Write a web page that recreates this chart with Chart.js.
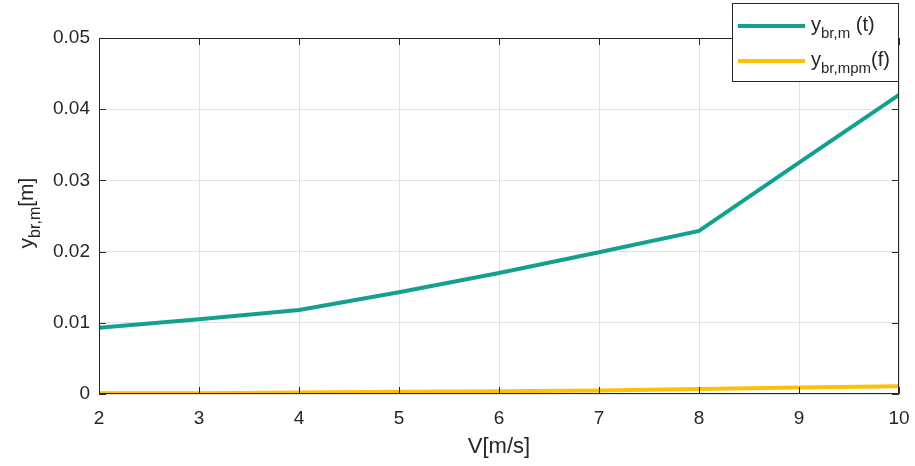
<!DOCTYPE html>
<html>
<head>
<meta charset="utf-8">
<script src="https://cdn.jsdelivr.net/npm/chart.js@4"></script>
<style>
  body { margin: 0; background: #fff; }
  #wrap { width: 915px; height: 466px; position: relative; }
</style>
</head>
<body>
<div id="wrap"><canvas id="chart"></canvas></div>
<script>
// wind speed V [m/s]
const speeds = [2, 3, 4, 5, 6, 7, 8, 9, 10];
// y_br,m (t)
const ybrM = [0.0093, 0.0105, 0.0118, 0.0143, 0.0170, 0.0199, 0.0229, 0.0325, 0.0420];
// y_br,mpm (f)
const ybrMpm = [0.0001, 0.0001, 0.0002, 0.0003, 0.0004, 0.0005, 0.0007, 0.0009, 0.0011];
const yTicks = [0, 0.01, 0.02, 0.03, 0.04, 0.05];

const FONT = '"Liberation Sans", Arial, Helvetica, sans-serif';
const TEXT = '#262626';
const TEAL = '#14a090';
const GOLD = '#ffc107';

// draws "base" followed by a lowered subscript and a trailing part, returns end x
function subText(ctx, x, y, base, sub, tail, size) {
  ctx.font = size + 'px ' + FONT;
  ctx.fillText(base, x, y);
  x += ctx.measureText(base).width;
  const subSize = Math.round(size * 0.75);
  ctx.font = subSize + 'px ' + FONT;
  ctx.fillText(sub, x, y + size * 0.35);
  x += ctx.measureText(sub).width;
  ctx.font = size + 'px ' + FONT;
  ctx.fillText(tail, x, y);
  return x + ctx.measureText(tail).width;
}

// box, inward ticks, axis titles and legend
const decorations = {
  id: 'decorations',
  afterDraw(chart) {
    const ctx = chart.ctx;
    const a = chart.chartArea;
    const xs = chart.scales.x, ys = chart.scales.y;
    ctx.save();
    ctx.strokeStyle = '#262626';
    ctx.lineWidth = 1;
    ctx.beginPath();
    ctx.rect(a.left + 0.5, a.top + 0.5, a.right - a.left - 1, a.bottom - a.top - 1);
    speeds.forEach(v => {
      const px = Math.round(xs.getPixelForValue(v)) + 0.5;
      ctx.moveTo(px, a.bottom); ctx.lineTo(px, a.bottom - 7);
      ctx.moveTo(px, a.top); ctx.lineTo(px, a.top + 7);
    });
    yTicks.forEach(v => {
      const py = Math.round(ys.getPixelForValue(v)) + 0.5;
      ctx.moveTo(a.left, py); ctx.lineTo(a.left + 7, py);
      ctx.moveTo(a.right, py); ctx.lineTo(a.right - 7, py);
    });
    ctx.stroke();

    ctx.fillStyle = TEXT;
    ctx.textBaseline = 'alphabetic';
    ctx.textAlign = 'center';
    ctx.font = '22px ' + FONT;
    ctx.fillText('V[m/s]', (a.left + a.right) / 2, 453);

    // rotated y title
    ctx.save();
    ctx.translate(33, 213);
    ctx.rotate(-Math.PI / 2);
    ctx.textAlign = 'left';
    ctx.font = '21px ' + FONT;
    const w = ctx.measureText('y').width + ctx.measureText('[m]').width;
    ctx.font = '16px ' + FONT;
    const total = w + ctx.measureText('br,m').width;
    subText(ctx, -total / 2, 0, 'y', 'br,m', '[m]', 21);
    ctx.restore();

    // legend, right edge flush with the plot box
    const lw = 166, lh = 78;
    const lx = a.right - lw - 1, ly = 3;
    ctx.fillStyle = '#fff';
    ctx.fillRect(lx, ly, lw, lh);
    ctx.strokeStyle = '#262626';
    ctx.strokeRect(lx + 0.5, ly + 0.5, lw, lh);
    const items = [
      { color: TEAL, sub: 'br,m', tail: ' (t)', y: 26 },
      { color: GOLD, sub: 'br,mpm', tail: '(f)', y: 61 }
    ];
    ctx.lineWidth = 4;
    ctx.textAlign = 'left';
    items.forEach(it => {
      ctx.strokeStyle = it.color;
      ctx.beginPath();
      ctx.moveTo(lx + 6, it.y); ctx.lineTo(lx + 73, it.y);
      ctx.stroke();
      ctx.fillStyle = TEXT;
      subText(ctx, lx + 79, it.y + 5, 'y', it.sub, it.tail, 20);
    });
    ctx.restore();
  }
};

new Chart(document.getElementById('chart'), {
  type: 'line',
  data: {
    datasets: [
      {
        label: 'y_br,m (t)',
        data: speeds.map((v, i) => ({ x: v, y: ybrM[i] })),
        borderColor: TEAL,
        borderWidth: 4,
        pointRadius: 0,
        fill: false
      },
      {
        label: 'y_br,mpm (f)',
        data: speeds.map((v, i) => ({ x: v, y: ybrMpm[i] })),
        borderColor: GOLD,
        borderWidth: 4,
        pointRadius: 0,
        fill: false
      }
    ]
  },
  options: {
    responsive: true,
    maintainAspectRatio: false,
    animation: false,
    layout: { padding: { top: 38, right: 16, left: 0, bottom: 0 } },
    plugins: { legend: { display: false }, tooltip: { enabled: false } },
    scales: {
      x: {
        type: 'linear',
        min: 2,
        max: 10,
        afterFit: s => { s.height = 72; s.paddingLeft = 0; s.paddingRight = 0; },
        ticks: { stepSize: 1, padding: 13, color: TEXT, font: { family: FONT, size: 19 } },
        grid: { color: '#e3e3e3', drawTicks: false },
        border: { display: false }
      },
      y: {
        min: 0,
        max: 0.05,
        afterFit: s => { s.width = 99; s.paddingTop = 0; s.paddingBottom = 0; },
        afterBuildTicks: s => { s.ticks = yTicks.map(v => ({ value: v })); },
        ticks: {
          padding: 9,
          color: TEXT,
          font: { family: FONT, size: 19 },
          callback: v => (v === 0 ? '0' : v.toFixed(2))
        },
        grid: { color: '#e3e3e3', drawTicks: false },
        border: { display: false }
      }
    }
  },
  plugins: [decorations]
});
</script>
</body>
</html>
